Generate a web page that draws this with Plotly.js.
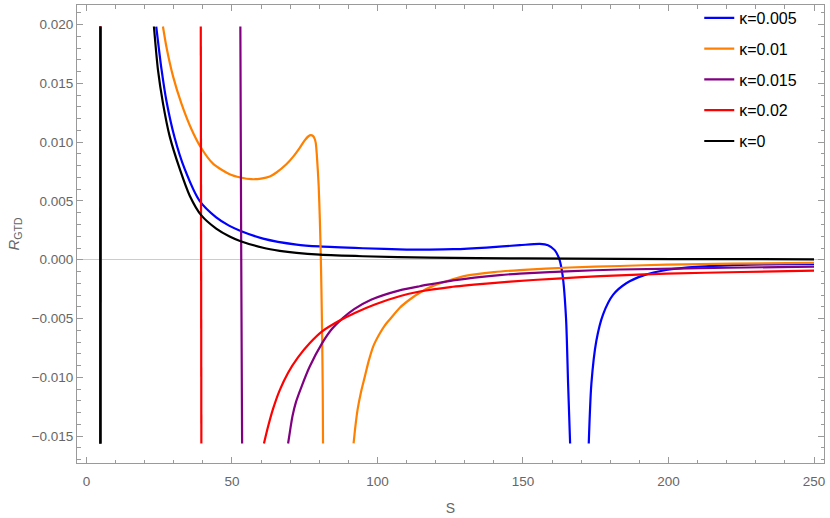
<!DOCTYPE html>
<html>
<head>
<meta charset="utf-8">
<script src="https://cdn.plot.ly/plotly-3.0.1.min.js"></script>
<style>html,body{margin:0;padding:0;background:#fff;}#chart{width:830px;height:518px;}</style>
</head>
<body>
<div id="chart"></div>
<script>
// kappa = 0.005 (blue)
const S_k005 = [4.79, 4.82, null, 24.0, 25.8, 27.5, 30.3, 33.8, 38.9, 44.6, 49.0, 53.0, 60.7, 72.2, 80.2, 95.0, 110.0, 117.9, 126.0, 137.4, 148.9, 155.8, 158.6, 160.9, 162.4, 163.6, 164.8, 165.5, 166.2, null, 172.6, 173.5, 175.2, 177.5, 181.0, 185.5, 191.2, 199.2, 210.7, 222.2, 233.6, 250.0];
const R_k005 = [-0.01562, 0.01983, null, 0.01983, 0.01620, 0.01350, 0.01040, 0.00770, 0.00500, 0.00360, 0.00290, 0.00245, 0.00180, 0.00129, 0.00113, 0.00098, 0.00087, 0.00087, 0.00090, 0.00104, 0.00124, 0.00135, 0.00124, 0.00082, 0.00011, -0.00129, -0.00500, -0.01050, -0.01562, null, -0.01562, -0.01056, -0.00691, -0.00466, -0.00297, -0.00200, -0.00135, -0.00087, -0.00059, -0.00046, -0.00039, -0.00036];

// kappa = 0.01 (orange)
const S_k01 = [4.79, 4.82, null, 26.3, 27.5, 29.8, 32.6, 36.1, 39.4, 43.5, 49.2, 53.0, 56.7, 60.0, 63.0, 65.3, 68.7, 71.0, 73.3, 75.0, 76.3, 77.1, 77.9, 78.4, 78.8, 79.2, 79.8, 80.2, 80.5, 80.75, 81.0, 81.2, 81.3, null, 91.8, 92.4, 93.2, 94.3, 95.6, 97.0, 98.5, 100.5, 102.5, 104.5, 107.6, 111.0, 114.5, 119.1, 124.0, 130.6, 140.0, 148.9, 166.1, 183.2, 199.3, 222.0, 250.0];
const R_k01 = [-0.01562, 0.01983, null, 0.01983, 0.01809, 0.01557, 0.01332, 0.01110, 0.00952, 0.00817, 0.00727, 0.00699, 0.00685, 0.00690, 0.00708, 0.00742, 0.00812, 0.00875, 0.00952, 0.01015, 0.01050, 0.01059, 0.01051, 0.01030, 0.00994, 0.00882, 0.00630, 0.00348, 0.00067, -0.00250, -0.00650, -0.01100, -0.01562, null, -0.01562, -0.01420, -0.01270, -0.01130, -0.01000, -0.00860, -0.00740, -0.00640, -0.00560, -0.00500, -0.00410, -0.00340, -0.00280, -0.00222, -0.00180, -0.00135, -0.00105, -0.00088, -0.00066, -0.00053, -0.00041, -0.00033, -0.00026];

// kappa = 0.015 (purple)
const S_k015 = [4.79, 4.82, null, 52.9, 53.2, 53.5, null, 69.3, 70.0, 70.8, 72.0, 73.9, 76.7, 81.1, 84.2, 88.2, 92.0, 97.8, 107.6, 114.5, 119.1, 126.0, 142.0, 148.9, 165.0, 183.2, 220.0, 250.0];
const R_k015 = [-0.01562, 0.01983, null, 0.01983, 0.00000, -0.01562, null, -0.01562, -0.01450, -0.01330, -0.01210, -0.01080, -0.00910, -0.00705, -0.00593, -0.00494, -0.00420, -0.00340, -0.00260, -0.00225, -0.00205, -0.00175, -0.00130, -0.00118, -0.00098, -0.00083, -0.00068, -0.00058];

// kappa = 0.02 (red)
const S_k02 = [4.79, 4.82, null, 39.3, 39.5, null, 61.0, 62.4, 64.1, 66.4, 69.3, 72.7, 76.7, 81.1, 86.4, 92.2, 99.1, 107.6, 114.5, 125.0, 137.4, 153.5, 170.0, 183.2, 199.3, 225.0, 250.0];
const R_k02 = [-0.01562, 0.01983, null, 0.01983, -0.01562, null, -0.01562, -0.01420, -0.01270, -0.01110, -0.00960, -0.00830, -0.00710, -0.00607, -0.00525, -0.00452, -0.00380, -0.00310, -0.00270, -0.00232, -0.00203, -0.00172, -0.00148, -0.00132, -0.00118, -0.00104, -0.00093];

// kappa = 0 (black)
const S_k0 = [4.79, 4.82, null, 23.2, 24.6, 26.3, 28.6, 32.1, 35.5, 39.5, 44.6, 49.2, 53.0, 60.7, 66.4, 72.2, 80.2, 95.0, 117.9, 150.0, 183.2, 220.0, 250.0];
const R_k0 = [-0.01562, 0.01983, null, 0.01983, 0.01612, 0.01332, 0.01051, 0.00770, 0.00545, 0.00377, 0.00265, 0.00198, 0.00158, 0.00102, 0.00076, 0.00058, 0.00043, 0.00030, 0.00018, 0.00011, 0.00007, 0.00005, 0.00004];

const seriesNames = ["κ=0.005", "κ=0.01", "κ=0.015", "κ=0.02", "κ=0"];
const seriesColors = ["#0000ff", "#ff8000", "#800080", "#ff0000", "#000000"];
const seriesS = [S_k005, S_k01, S_k015, S_k02, S_k0];
const seriesR = [R_k005, R_k01, R_k015, R_k02, R_k0];

const xTickVals = [0, 50, 100, 150, 200, 250];
const yTickVals = [-0.015, -0.010, -0.005, 0.000, 0.005, 0.010, 0.015, 0.020];

const FONT = "Liberation Sans, Arial, sans-serif";

const traces = seriesNames.map((n, i) => ({
  x: seriesS[i], y: seriesR[i], name: n, type: "scatter", mode: "lines",
  connectgaps: false, legendgroup: "g" + i,
  line: {color: seriesColors[i], width: 2.2, shape: "spline", smoothing: 0.7}
}));

const axisCommon = {
  showline: true, linecolor: "#9a9a9a", linewidth: 1, mirror: "ticks",
  ticks: "inside", tickcolor: "#9a9a9a", tickwidth: 1, ticklen: 6,
  showgrid: false,
  tickfont: {family: FONT, size: 13.5, color: "#666666"}
};

const layout = {
  width: 830, height: 518,
  margin: {l: 77, r: 5.5, t: 1, b: 55},
  paper_bgcolor: "#ffffff", plot_bgcolor: "#ffffff",
  font: {family: FONT, color: "#666666"},
  showlegend: true,
  legend: {
    x: 0.833, y: 1.009, xanchor: "left", yanchor: "top",
    bgcolor: "rgba(0,0,0,0)", borderwidth: 0,
    font: {family: FONT, size: 16, color: "#000000"},
    tracegroupgap: 7, traceorder: "grouped"
  },
  xaxis: Object.assign({}, axisCommon, {
    range: [-3.23, 253.43],
    tickmode: "array", tickvals: xTickVals,
    zeroline: false,
    ticklabelstandoff: 6,
    minor: {dtick: 10, tick0: 0, ticks: "inside", ticklen: 3.5, tickcolor: "#9a9a9a", tickwidth: 1, showgrid: false},
    title: {text: "S", font: {family: FONT, size: 14, color: "#666666"}, standoff: 14}
  }),
  yaxis: Object.assign({}, axisCommon, {
    range: [-0.01728, 0.02166],
    tickmode: "array", tickvals: yTickVals, tickformat: ".3f",
    zeroline: true, zerolinecolor: "#cccccc", zerolinewidth: 1,
    minor: {dtick: 0.001, tick0: 0, ticks: "inside", ticklen: 3.5, tickcolor: "#9a9a9a", tickwidth: 1, showgrid: false},
    title: {text: "<i>R</i><sub>GTD</sub>", font: {family: FONT, size: 15, color: "#666666"}, standoff: 8}
  })
};

Plotly.newPlot("chart", traces, layout, {staticPlot: true, displayModeBar: false});
</script>
</body>
</html>
